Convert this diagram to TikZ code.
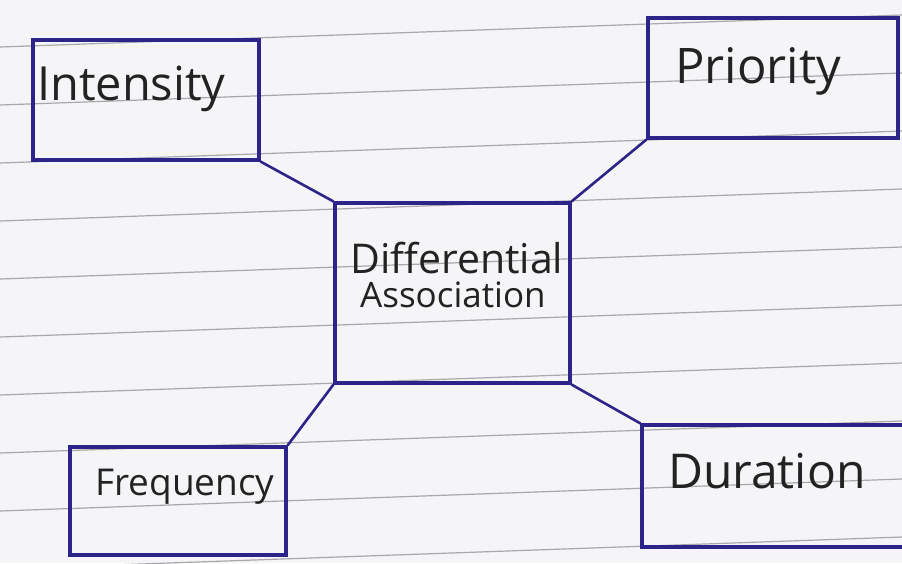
\documentclass[tikz,border=0pt]{standalone}
\usepackage{fontspec}
\setmainfont{Open Sans}
\usepackage{xcolor}
\usepackage{tikz}
\definecolor{pen}{HTML}{2C2488}
\definecolor{ink}{HTML}{222222}
\definecolor{paper}{HTML}{F5F5F7}
\definecolor{ruling}{HTML}{A8A8AC}
\newcommand\handsize[1]{\fontsize{#1}{#1}\selectfont}
\tikzset{
  box/.style={draw=pen, line width=3.2pt, rectangle, inner sep=0pt},
  word/.style={text=ink, inner sep=0pt, anchor=base west},
  link/.style={draw=pen, line width=2.6pt}
}

\begin{document}
\begin{tikzpicture}[x=1pt, y=-1pt]
\fill[paper] (0,0) rectangle (902,563);
\useasboundingbox (0,0) rectangle (902,563);
\begin{scope}
\clip (0,0) rectangle (902,563);
\foreach \k in {0,...,9}
  \draw[ruling, line width=1.2pt] (0,{47+58*\k}) -- (902,{15+58*\k});
\node[box, minimum width=226pt, minimum height=120pt] (intensity) at (146,100) {};
\node[box, minimum width=250pt, minimum height=120pt] (priority) at (773,78) {};
\node[box, minimum width=235pt, minimum height=180pt] (assoc) at (452.5,293) {};
\node[box, minimum width=216pt, minimum height=108pt] (frequency) at (178,501) {};
\node[box, minimum width=264pt, minimum height=122pt] (duration) at (774,486) {};
\node[word, font=\handsize{47pt}] (intensity-text) at (37,100) {Intensity};
\node[word, font=\handsize{49pt}] (priority-text) at (675,83) {Priority};
\node[word, font=\handsize{41pt}] (assoc-text1) at (350,273) {Differential};
\node[word, font=\handsize{35pt}] (assoc-text2) at (360,307) {Association};
\node[word, font=\handsize{37pt}] (frequency-text) at (95,495) {Frequency};
\node[word, font=\handsize{48pt}] (duration-text) at (668,488) {Duration};
\draw[link] (intensity.south east) -- (assoc.north west);
\draw[link] (priority.south west) -- (assoc.north east);
\draw[link] (assoc.south west) -- (frequency.north east);
\draw[link] (assoc.south east) -- (duration.north west);
\end{scope}
\end{tikzpicture}
\end{document}
